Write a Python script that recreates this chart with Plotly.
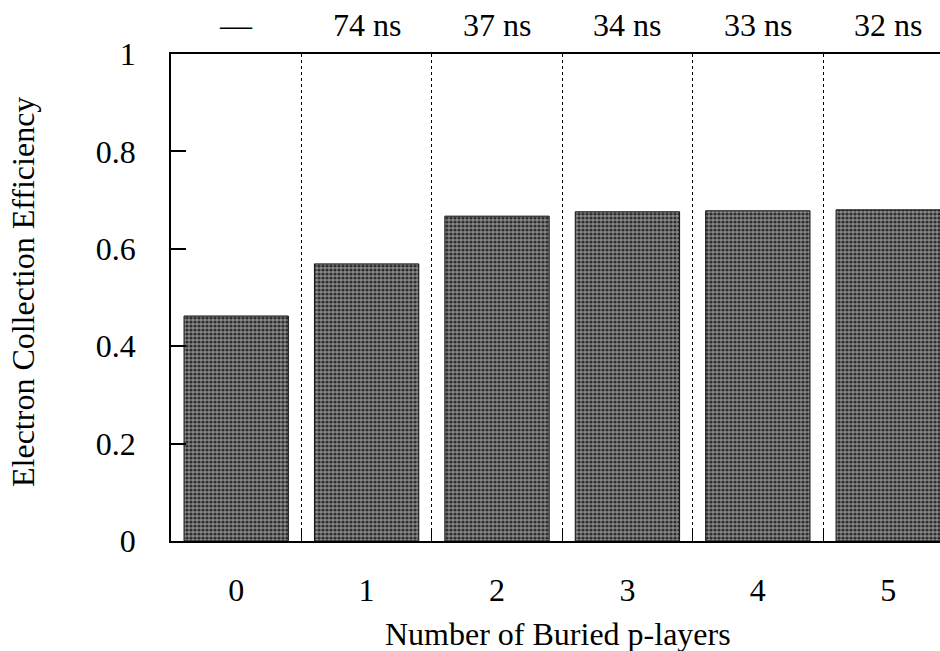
import plotly.graph_objects as go

# Number of buried p-layers and the resulting electron collection efficiency
layers = [0, 1, 2, 3, 4, 5]
efficiency = [0.462, 0.569, 0.667, 0.676, 0.678, 0.680]
# Collection time for each configuration (shown above the plot)
collection_time = ["\u2014", "74 ns", "37 ns", "34 ns", "33 ns", "32 ns"]
y_ticks = [0, 0.2, 0.4, 0.6, 0.8, 1]
y_tick_text = ["0", "0.2", "0.4", "0.6", "0.8", "1"]

FONT = "Times New Roman, Liberation Serif, Times, serif"
FS = 32

fig = go.Figure()
fig.add_trace(go.Bar(
    x=layers,
    y=efficiency,
    width=0.8,
    marker=dict(
        color="#1c1c1c",
        line=dict(color="#111111", width=1),
        pattern=dict(shape=".", fgcolor="#f4f4f4", bgcolor="#1a1a1a",
                     size=4, solidity=0.68, fillmode="overlay"),
    ),
    showlegend=False,
))

# Category separators: minor grid at half-integer positions
separators = [l + 0.5 for l in layers[:-1]]

fig.update_layout(
    width=940, height=651,
    margin=dict(l=171, r=0, t=54, b=110),
    paper_bgcolor="white", plot_bgcolor="white",
    font=dict(family=FONT, size=FS, color="black"),
    xaxis=dict(
        range=[-0.5, 5.397],
        tickvals=layers, ticktext=[str(v) for v in layers],
        ticks="", showgrid=False, zeroline=False,
        showline=True, linecolor="black", linewidth=1.5, mirror=True,
        ticklabelstandoff=20,
        tickfont=dict(family=FONT, size=FS),
        minor=dict(tickvals=separators, ticks="inside", ticklen=10,
                   tickcolor="black", tickwidth=1,
                   showgrid=True, gridcolor="black", gridwidth=1,
                   griddash="dot"),
    ),
    yaxis=dict(
        range=[0, 1],
        tickvals=y_ticks, ticktext=y_tick_text,
        ticks="inside", ticklen=15, tickwidth=1.5, tickcolor="black",
        showgrid=False, zeroline=False,
        showline=True, linecolor="black", linewidth=1.5, mirror=False,
        ticklabelstandoff=27,
        tickfont=dict(family=FONT, size=FS),
    ),
)

plot_h = 651 - 54 - 110
plot_w = 940 - 171

# Collection time labels above each category
for l, t in zip(layers, collection_time):
    fig.add_annotation(x=l, xref="x", y=1 + 29 / plot_h, yref="paper",
                       text=t, showarrow=False, yanchor="middle",
                       font=dict(family=FONT, size=FS))

# Axis titles
fig.add_annotation(x=(558 - 171) / plot_w, xref="paper",
                   y=-(634 - 541) / plot_h, yref="paper",
                   text="Number of Buried p-layers", showarrow=False,
                   xanchor="center", yanchor="middle",
                   font=dict(family=FONT, size=FS))
fig.add_annotation(x=-(171 - 23) / plot_w, xref="paper",
                   y=(541 - 292) / plot_h, yref="paper",
                   text="Electron Collection Efficiency", showarrow=False,
                   textangle=-90, xanchor="center", yanchor="middle",
                   font=dict(family=FONT, size=FS))

fig.write_html("out.html")
